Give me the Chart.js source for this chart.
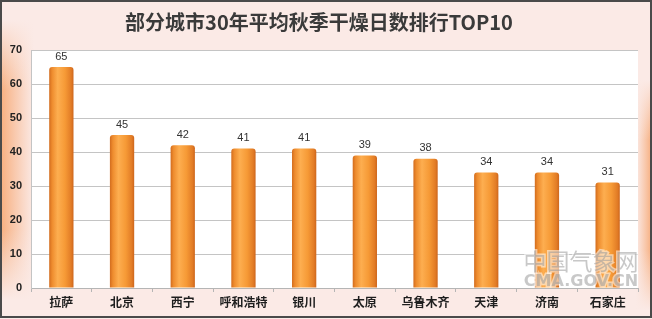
<!DOCTYPE html>
<html><head><meta charset="utf-8">
<script src="https://cdn.jsdelivr.net/npm/chart.js@4.4.1/dist/chart.umd.min.js"></script>
<style>html,body{margin:0;padding:0;background:#fff;}#wrap{width:652px;height:319px;position:relative;}</style>
</head><body><div id="wrap"><canvas id="c" width="652" height="319"></canvas></div>
<script>
const titleText = '部分城市30年平均秋季干燥日数排行TOP10';
const cities = ['拉萨','北京','西宁','呼和浩特','银川','太原','乌鲁木齐','天津','济南','石家庄'];
const dryDays = [65,45,42,41,41,39,38,34,34,31];
const yMin = 0, yMax = 70, yStep = 10;
const watermark1 = '中国气象网';
const watermark2 = 'CMA.GOV.CN';

const BG = 'rgb(251,234,230)';
const BG0 = 'rgba(251,234,230,0)';

function softBand(ctx, x0, x1, y0, y1, fade, fromLeft){
  let g = ctx.createLinearGradient(fromLeft ? x0 : x1, 0, fromLeft ? x1 : x0, 0);
  g.addColorStop(0,'rgba(246,162,105,0.85)');
  g.addColorStop(1,'rgba(246,170,120,0)');
  ctx.fillStyle = g; ctx.fillRect(x0, y0, x1-x0, y1-y0);
  g = ctx.createLinearGradient(0, y0, 0, y0+fade);
  g.addColorStop(0, BG); g.addColorStop(1, BG0);
  ctx.fillStyle = g; ctx.fillRect(x0, y0, x1-x0, fade);
  g = ctx.createLinearGradient(0, y1-fade, 0, y1);
  g.addColorStop(0, BG0); g.addColorStop(1, BG);
  ctx.fillStyle = g; ctx.fillRect(x0, y1-fade, x1-x0, fade);
}

const bgPlugin = {
  id:'bg',
  beforeDraw(chart){
    const {ctx, width, height, chartArea:a} = chart;
    ctx.save();
    ctx.fillStyle = BG;
    ctx.fillRect(0,0,width,height);
    softBand(ctx, 0, 34, 20, 300, 70, true);
    softBand(ctx, width-16, width, 80, 310, 60, false);
    ctx.fillStyle = '#ffffff';
    ctx.fillRect(a.left,a.top,a.right-a.left,a.bottom-a.top);
    ctx.restore();
  },
  afterDraw(chart){
    const {ctx, width, height} = chart;
    ctx.save();
    const meta = chart.getDatasetMeta(0);
    ctx.font = '11px "Liberation Sans", Arial, sans-serif';
    ctx.fillStyle = '#333';
    ctx.textAlign = 'center'; ctx.textBaseline = 'bottom';
    meta.data.forEach((bar,i)=>{ ctx.fillText(String(dryDays[i]), bar.x, bar.y-5); });
    ctx.globalAlpha = 0.55;
    ctx.textAlign = 'center'; ctx.textBaseline = 'middle';
    ctx.lineWidth = 3; ctx.strokeStyle = '#ffffff'; ctx.fillStyle = '#9a9a9a';
    ctx.font = '23px "Noto Sans CJK SC", sans-serif';
    ctx.strokeText(watermark1, 581, 261); ctx.fillText(watermark1, 581, 261);
    ctx.font = 'bold 16px "DejaVu Sans", sans-serif';
    ctx.strokeText(watermark2, 581, 282); ctx.fillText(watermark2, 581, 282);
    ctx.globalAlpha = 1;
    ctx.strokeStyle = '#4a4a4a'; ctx.lineWidth = 2;
    ctx.strokeRect(1,1,width-2,height-3);
    ctx.restore();
  }
};

function barGradient(context){
  const chart = context.chart;
  const xs = chart.scales && chart.scales.x;
  if(!xs || context.dataIndex === undefined) return '#f29030';
  const cx = xs.getPixelForValue(context.dataIndex);
  const w = (xs.width / cities.length) * 0.4;
  if(!isFinite(cx) || !isFinite(w) || w <= 0) return '#f29030';
  const g = chart.ctx.createLinearGradient(cx - w/2, 0, cx + w/2, 0);
  g.addColorStop(0,'#d26c1e');
  g.addColorStop(0.12,'#ee8c2e');
  g.addColorStop(0.35,'#fdae50');
  g.addColorStop(0.65,'#f69a36');
  g.addColorStop(0.9,'#e27c26');
  g.addColorStop(1,'#cd661c');
  return g;
}

new Chart(document.getElementById('c'), {
  type:'bar',
  data:{ labels:cities, datasets:[{ data:dryDays, backgroundColor:barGradient,
    borderRadius:{topLeft:3,topRight:3,bottomLeft:0,bottomRight:0}, borderSkipped:'bottom',
    barPercentage:0.8, categoryPercentage:0.5 }]},
  options:{
    responsive:false, animation:false, devicePixelRatio:1,
    layout:{ padding:{ left:0, right:14, top:0, bottom:0 } },
    plugins:{
      legend:{display:false}, tooltip:{enabled:false},
      title:{ display:true, text:titleText, color:'#3a3a3a',
        font:{ family:'"Noto Sans CJK SC", sans-serif', size:20, weight:'bold', lineHeight:1.2 },
        padding:{ top:10, bottom:16 } }
    },
    scales:{
      x:{
        afterFit(s){ s.height = 31; },
        grid:{ display:true, drawOnChartArea:false, drawTicks:true, tickLength:4, color:'#b5b5b5', offset:true },
        border:{ color:'#b5b5b5' },
        ticks:{ color:'#1e1e1e', padding:3, maxRotation:0, font:{ family:'"Noto Sans CJK SC", sans-serif', size:12, weight:'bold' } }
      },
      y:{
        min:yMin, max:yMax,
        afterFit(s){ s.width = 31; },
        grid:{ color:'#c4c4c4', drawTicks:false },
        border:{ color:'#c4c4c4' },
        ticks:{ stepSize:yStep, color:'#222', padding:9, font:{ family:'"Liberation Sans", Arial, sans-serif', size:11, weight:'bold' } }
      }
    }
  },
  plugins:[bgPlugin]
});
</script></body></html>
